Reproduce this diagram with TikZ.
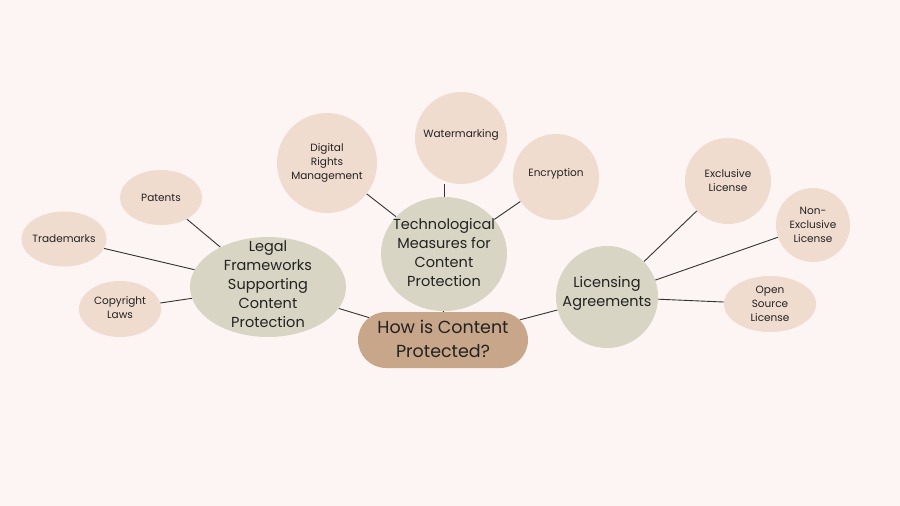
\documentclass[tikz,border=0pt]{standalone}
\usepackage{fontspec}
\setmainfont{Poppins}
\usetikzlibrary{shapes.geometric,shapes.misc}
\pgfdeclarelayer{canvas}
\pgfdeclarelayer{background}
\pgfsetlayers{canvas,background,main}
\definecolor{bg}{HTML}{FCF5F4}
\definecolor{leaf}{HTML}{F0DBCF}
\definecolor{mid}{HTML}{D8D5C4}
\definecolor{root}{HTML}{C8A68A}
\definecolor{ink}{HTML}{222222}
\definecolor{edge}{HTML}{333333}
\newcommand{\ctxt}[2][0pt]{\raisebox{\dimexpr-0.25em-4.5pt+#1\relax}{\smash{\makebox[0pt]{\begin{tabular}{@{}c@{}}#2\end{tabular}}}}}
\tikzset{
  leafnode/.style={ellipse, fill=leaf, inner sep=0pt, text=ink,
    font=\fontsize{10.5}{14}\selectfont},
  midnode/.style={ellipse, fill=mid, inner sep=0pt, text=ink,
    font=\fontsize{14.5}{19}\selectfont},
  rootnode/.style={rounded rectangle, fill=root, inner sep=0pt, text=ink,
    font=\fontsize{17.5}{24}\selectfont},
  link/.style={draw=edge, line width=0.9pt}
}
\begin{document}
\begin{tikzpicture}[x=1pt,y=-1pt]
\begin{pgfonlayer}{canvas}
\fill[bg] (0,0) rectangle (900,506);
\end{pgfonlayer}
\useasboundingbox (0,0) rectangle (900,506);
% root
\node[rootnode, minimum width=170pt, minimum height=56pt] (root) at (443,340) {\ctxt[-1pt]{How is Content\\Protected?}};
% mid nodes
\node[midnode, minimum width=156pt, minimum height=100pt] (legal) at (268,287) {\ctxt[3pt]{Legal\\Frameworks\\Supporting\\Content\\Protection}};
\node[midnode, minimum width=126pt, minimum height=114pt] (tech) at (444,254) {\ctxt{Technological\\Measures for\\Content\\Protection}};
\node[midnode, minimum width=102pt, minimum height=102pt] (lic) at (607,297) {\ctxt[8.5pt]{Licensing\\Agreements}};
% leaves
\node[leafnode, minimum width=82pt, minimum height=56pt] (copy) at (120,309) {\ctxt[3pt]{Copyright\\Laws}};
\node[leafnode, minimum width=85pt, minimum height=55pt] (trade) at (64,239) {\ctxt{Trademarks}};
\node[leafnode, minimum width=82pt, minimum height=55pt] (pat) at (161,197.5) {\ctxt{Patents}};
\node[leafnode, minimum width=100pt, minimum height=100pt] (drm) at (327,163) {\ctxt[2pt]{Digital\\Rights\\Management}};
\node[leafnode, minimum width=92pt, minimum height=92pt] (wm) at (461,138) {\ctxt[9pt]{Watermarking}};
\node[leafnode, minimum width=86pt, minimum height=86pt] (enc) at (556,177) {\ctxt[9pt]{Encryption}};
\node[leafnode, minimum width=86pt, minimum height=86pt] (excl) at (728,181) {\ctxt{Exclusive\\License}};
\node[leafnode, minimum width=74pt, minimum height=74pt] (nonex) at (813,225) {\ctxt{Non-\\Exclusive\\License}};
\node[leafnode, minimum width=92pt, minimum height=56pt] (open) at (770,304) {\ctxt{Open\\Source\\License}};
\begin{pgfonlayer}{background}
\draw[link] (root) -- (legal);
\draw[link] (root.north) -- (tech.south);
\draw[link] (root) -- (lic);
\draw[link] (legal) -- (copy);
\draw[link] (legal) -- (trade);
\draw[link] (legal) -- (pat);
\draw[link] (tech) -- (drm);
\draw[link] (tech.north) -- (tech.north |- wm.south);
\draw[link] (tech) -- (enc);
\draw[link] (lic) -- (excl);
\draw[link] (lic) -- (nonex);
\draw[link] (lic) -- (open);
\end{pgfonlayer}
\end{tikzpicture}
\end{document}
